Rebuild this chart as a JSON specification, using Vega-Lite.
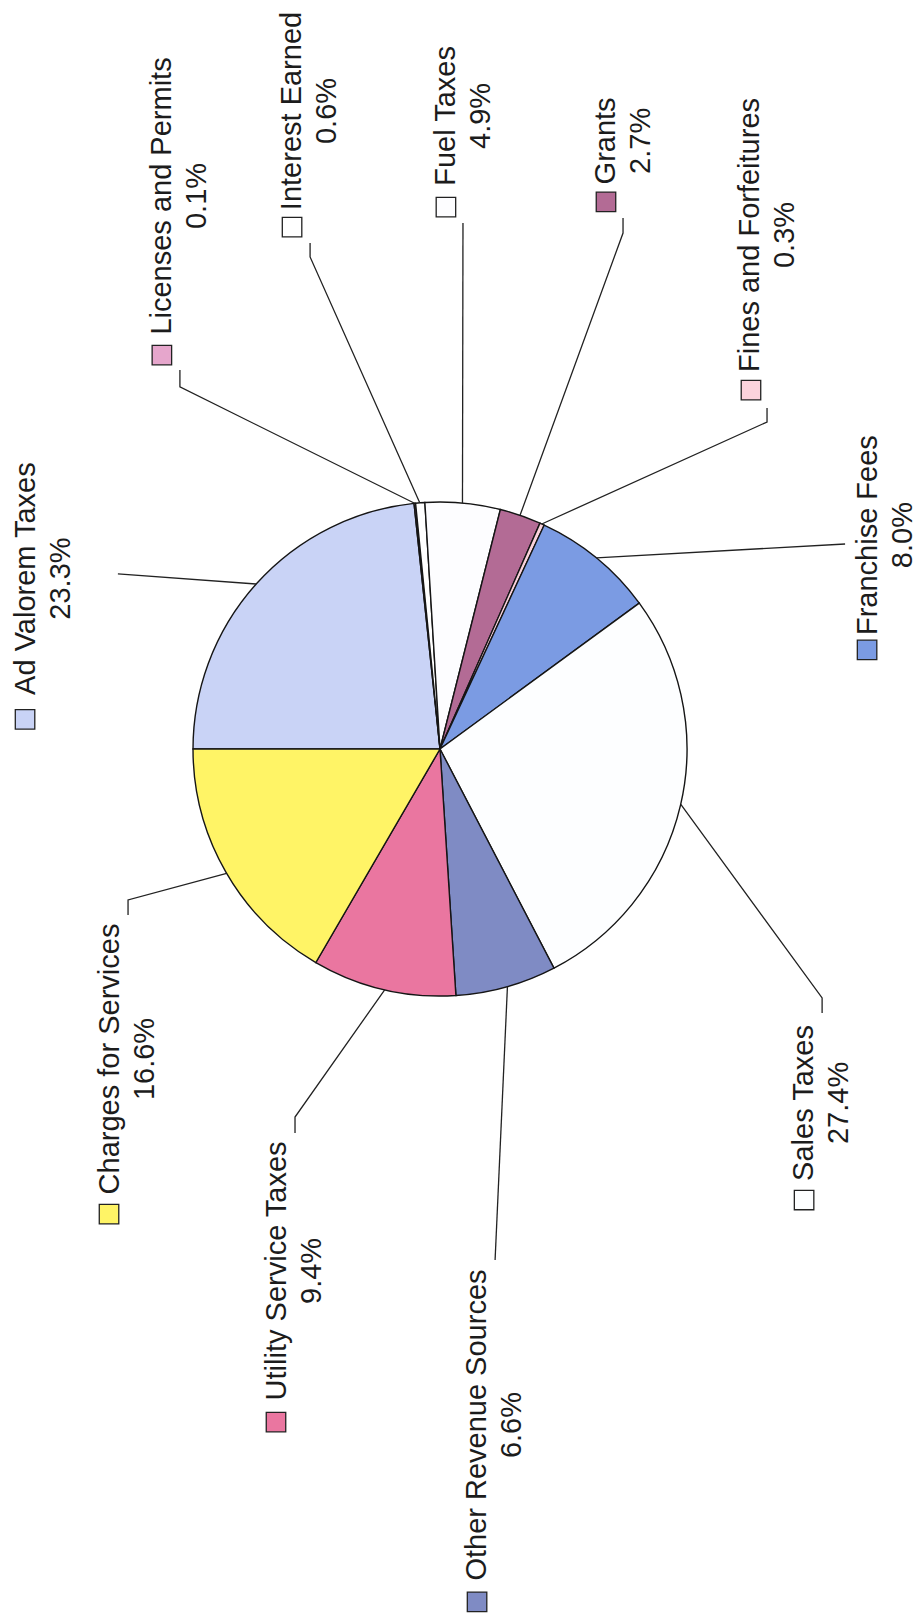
{
  "$schema": "https://vega.github.io/schema/vega-lite/v6.json",
  "width": 922,
  "height": 1614,
  "padding": 0,
  "autosize": {"type": "none"},
  "background": "white",
  "config": {"view": {"stroke": null}},
  "datasets": {
    "slices": [
      {"idx": 1, "cat": "Ad Valorem Taxes", "pct": 23.3, "pctText": "23.3%", "tx": -160.7, "ty": 69.0, "bx": -168.0, "by": 12.0},
      {"idx": 2, "cat": "Licenses and Permits", "pct": 0.1, "pctText": "0.1%", "tx": -105.3, "ty": 223.9, "bx": -112.6, "by": 159.5},
      {"idx": 3, "cat": "Interest Earned", "pct": 0.6, "pctText": "0.6%", "tx": -52.8, "ty": 258.3, "bx": -59.9, "by": 211.3},
      {"idx": 4, "cat": "Fuel Taxes", "pct": 4.9, "pctText": "4.9%", "tx": 9.5, "ty": 256.3, "bx": 2.4, "by": 219.4},
      {"idx": 5, "cat": "Grants", "pct": 2.7, "pctText": "2.7%", "tx": 74.3, "ty": 246.2, "bx": 67.2, "by": 221.5},
      {"idx": 6, "cat": "Fines and Forfeitures", "pct": 0.3, "pctText": "0.3%", "tx": 132.6, "ty": 208.1, "bx": 125.9, "by": 145.3},
      {"idx": 7, "cat": "Franchise Fees", "pct": 8.0, "pctText": "8.0%", "tx": 180.4, "ty": 86.6, "bx": 172.9, "by": 40.1},
      {"idx": 8, "cat": "Sales Taxes", "pct": 27.4, "pctText": "27.4%", "tx": 154.5, "ty": -143.3, "bx": 147.4, "by": -182.6},
      {"idx": 9, "cat": "Other Revenue Sources", "pct": 6.6, "pctText": "6.6%", "tx": 22.1, "ty": -273.7, "bx": 15.0, "by": -345.3},
      {"idx": 10, "cat": "Utility Service Taxes", "pct": 9.4, "pctText": "9.4%", "tx": -58.9, "ty": -211.3, "bx": -66.4, "by": -272.5},
      {"idx": 11, "cat": "Charges for Services", "pct": 16.6, "pctText": "16.6%", "tx": -126.5, "ty": -125.5, "bx": -134.0, "by": -188.3}
    ],
    "leaders": [
      {"cat": "Ad Valorem Taxes", "seq": 1, "x": -74.4, "y": 66.8},
      {"cat": "Ad Valorem Taxes", "seq": 2, "x": -130.4, "y": 70.9},
      {"cat": "Licenses and Permits", "seq": 1, "x": -10.3, "y": 99.5},
      {"cat": "Licenses and Permits", "seq": 2, "x": -105.3, "y": 146.6},
      {"cat": "Licenses and Permits", "seq": 3, "x": -105.3, "y": 153.4},
      {"cat": "Interest Earned", "seq": 1, "x": -8.2, "y": 99.7},
      {"cat": "Interest Earned", "seq": 2, "x": -52.6, "y": 199.2},
      {"cat": "Interest Earned", "seq": 3, "x": -52.6, "y": 204.9},
      {"cat": "Fuel Taxes", "seq": 1, "x": 9.1, "y": 99.6},
      {"cat": "Fuel Taxes", "seq": 2, "x": 9.3, "y": 213.0},
      {"cat": "Grants", "seq": 1, "x": 32.4, "y": 94.6},
      {"cat": "Grants", "seq": 2, "x": 74.1, "y": 208.9},
      {"cat": "Grants", "seq": 3, "x": 74.1, "y": 215.0},
      {"cat": "Fines and Forfeitures", "seq": 1, "x": 41.2, "y": 91.1},
      {"cat": "Fines and Forfeitures", "seq": 2, "x": 132.4, "y": 132.4},
      {"cat": "Fines and Forfeitures", "seq": 3, "x": 132.4, "y": 138.1},
      {"cat": "Franchise Fees", "seq": 1, "x": 63.3, "y": 77.4},
      {"cat": "Franchise Fees", "seq": 2, "x": 164.0, "y": 83.0},
      {"cat": "Sales Taxes", "seq": 1, "x": 97.5, "y": -22.4},
      {"cat": "Sales Taxes", "seq": 2, "x": 154.7, "y": -100.8},
      {"cat": "Sales Taxes", "seq": 3, "x": 154.7, "y": -106.9},
      {"cat": "Other Revenue Sources", "seq": 1, "x": 27.3, "y": -96.2},
      {"cat": "Other Revenue Sources", "seq": 2, "x": 22.3, "y": -206.9},
      {"cat": "Utility Service Taxes", "seq": 1, "x": -22.4, "y": -97.5},
      {"cat": "Utility Service Taxes", "seq": 2, "x": -58.7, "y": -149.0},
      {"cat": "Utility Service Taxes", "seq": 3, "x": -58.7, "y": -155.5},
      {"cat": "Charges for Services", "seq": 1, "x": -86.4, "y": -50.4},
      {"cat": "Charges for Services", "seq": 2, "x": -126.3, "y": -61.1},
      {"cat": "Charges for Services", "seq": 3, "x": -126.3, "y": -67.2}
    ]
  },
  "layer": [
    {
      "data": {"name": "slices"},
      "mark": {"type": "arc", "outerRadius": 247, "stroke": "#151515", "strokeWidth": 1.4},
      "encoding": {
        "x": {"datum": 0, "type": "quantitative", "scale": {"domain": [-178.14, 195.14], "nice": false, "zero": false}, "axis": null},
        "y": {"datum": 0, "type": "quantitative", "scale": {"domain": [-350.2, 303.24], "nice": false, "zero": false}, "axis": null},
        "theta": {"field": "pct", "type": "quantitative", "stack": true, "scale": {"range": [-1.5708, 4.7124]}},
        "order": {"field": "idx", "type": "quantitative"},
        "color": {
          "field": "cat",
          "type": "nominal",
          "legend": null,
          "scale": {
            "domain": ["Ad Valorem Taxes", "Licenses and Permits", "Interest Earned", "Fuel Taxes", "Grants", "Fines and Forfeitures", "Franchise Fees", "Sales Taxes", "Other Revenue Sources", "Utility Service Taxes", "Charges for Services"],
            "range": ["#c9d3f6", "#e6a6cc", "#ffffff", "#fdfdff", "#b36b95", "#fbd3dc", "#7b9be3", "#fdfeff", "#7f8bc4", "#ea76a0", "#fff466"]
          }
        }
      }
    },
    {
      "data": {"name": "leaders"},
      "mark": {"type": "line", "stroke": "#222222", "strokeWidth": 1.3, "interpolate": "linear"},
      "encoding": {
        "x": {"field": "x", "type": "quantitative", "scale": {"domain": [-178.14, 195.14], "nice": false, "zero": false}, "axis": null},
        "y": {"field": "y", "type": "quantitative", "scale": {"domain": [-350.2, 303.24], "nice": false, "zero": false}, "axis": null},
        "detail": {"field": "cat", "type": "nominal"},
        "order": {"field": "seq", "type": "quantitative"}
      }
    },
    {
      "data": {"name": "slices"},
      "mark": {"type": "point", "shape": "square", "filled": true, "size": 380, "stroke": "#222222", "strokeWidth": 1.3, "opacity": 1},
      "encoding": {
        "x": {"field": "bx", "type": "quantitative", "scale": {"domain": [-178.14, 195.14], "nice": false, "zero": false}, "axis": null},
        "y": {"field": "by", "type": "quantitative", "scale": {"domain": [-350.2, 303.24], "nice": false, "zero": false}, "axis": null},
        "color": {"field": "cat", "type": "nominal", "legend": null}
      }
    },
    {
      "data": {"name": "slices"},
      "mark": {"type": "text", "angle": 270, "align": "center", "baseline": "middle", "dy": -17.5, "font": "Liberation Sans", "fontSize": 29, "fill": "#1c1c1c"},
      "encoding": {
        "x": {"field": "tx", "type": "quantitative", "scale": {"domain": [-178.14, 195.14], "nice": false, "zero": false}, "axis": null},
        "y": {"field": "ty", "type": "quantitative", "scale": {"domain": [-350.2, 303.24], "nice": false, "zero": false}, "axis": null},
        "text": {"field": "cat", "type": "nominal"}
      }
    },
    {
      "data": {"name": "slices"},
      "mark": {"type": "text", "angle": 270, "align": "center", "baseline": "middle", "dy": 17.5, "font": "Liberation Sans", "fontSize": 29, "fill": "#1c1c1c"},
      "encoding": {
        "x": {"field": "tx", "type": "quantitative", "scale": {"domain": [-178.14, 195.14], "nice": false, "zero": false}, "axis": null},
        "y": {"field": "ty", "type": "quantitative", "scale": {"domain": [-350.2, 303.24], "nice": false, "zero": false}, "axis": null},
        "text": {"field": "pctText", "type": "nominal"}
      }
    }
  ]
}
